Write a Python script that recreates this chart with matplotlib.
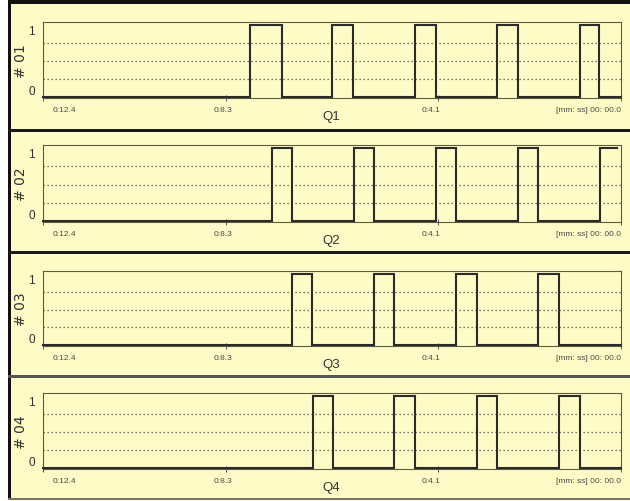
import matplotlib
matplotlib.use("Agg")
import matplotlib.pyplot as plt
from matplotlib.patches import Rectangle
from matplotlib.transforms import ScaledTranslation

plt.rcParams['font.family'] = ['Liberation Sans', 'DejaVu Sans']

# ---- data (time remaining in seconds, output state) ----
series_names = ["# 01", "# 02", "# 03", "# 04"]
panel_titles = ["Q1", "Q2", "Q3", "Q4"]

q1_t = [12.4, 7.96, 7.27, 6.19, 5.74, 4.41, 3.97, 2.65, 2.22, 0.89, 0.47, 0.0]
q1_v = [0, 1, 0, 1, 0, 1, 0, 1, 0, 1, 0, 0]
q2_t = [12.4, 7.49, 7.06, 5.73, 5.30, 3.97, 3.54, 2.22, 1.79, 0.45, 0.09]
q2_v = [0, 1, 0, 1, 0, 1, 0, 1, 0, 1, 1]
q3_t = [12.4, 7.06, 6.62, 5.30, 4.86, 3.54, 3.10, 1.78, 1.34, 0.0]
q3_v = [0, 1, 0, 1, 0, 1, 0, 1, 0, 0]
q4_t = [12.4, 6.61, 6.18, 4.86, 4.42, 3.10, 2.66, 1.34, 0.89, 0.0]
q4_v = [0, 1, 0, 1, 0, 1, 0, 1, 0, 0]
series_t = [q1_t, q2_t, q3_t, q4_t]
series_v = [q1_v, q2_v, q3_v, q4_v]

x_tick_pos = [12.4, 8.47, 3.93, 0.0]
x_tick_labels = ["0:12.4", "0:8.3", "0:4.1", "[mm: ss] 00: 00.0"]
y_tick_pos = [0, 1]
y_tick_labels = ["0", "1"]
grid_levels = [0.25, 0.5, 0.75]

W, H = 630, 502
BG = "#FEFBC6"
fig = plt.figure(figsize=(W / 100, H / 100), dpi=100, facecolor=BG)


def px_rect(x0, y0, x1, y1, color):
    fig.add_artist(Rectangle((x0 / W, 1 - y1 / H), (x1 - x0) / W, (y1 - y0) / H,
                             transform=fig.transFigure, facecolor=color,
                             edgecolor="none", zorder=5))


# frame decorations
px_rect(0, 0, 8, H, "white")
px_rect(8, 0, W, 5, "#111111")
px_rect(8, 0, 11, 501, "#111111")
px_rect(8, 129.5, W, 132.5, "#1a1a1a")
px_rect(8, 252, W, 255, "#1a1a1a")
px_rect(8, 376, W, 378.5, "#555555")
px_rect(8, 499, W, 501, "#777777")

axes_px = [(23, 99), (146, 223), (272, 347), (394, 470)]
left_px, right_px = 43, 621

for i, (top, bot) in enumerate(axes_px):
    ax = fig.add_axes([left_px / W, 1 - bot / H, (right_px - left_px) / W, (bot - top) / H])
    ax.set_facecolor(BG)
    ax.plot(series_t[i], series_v[i], drawstyle="steps-post", color="#2b2b2b",
            lw=1.5, clip_on=False, zorder=3, solid_joinstyle="miter")
    for g in grid_levels:
        ax.axhline(g, color="#4a4a4a", lw=0.9, linestyle=(0, (1, 2.2)), zorder=1)
    ax.set_xlim(12.4, 0)
    ax.set_ylim(-0.01, 1.04)
    for s in ax.spines.values():
        s.set_color("#5c5c40")
        s.set_linewidth(0.8)
    ax.set_xticks(x_tick_pos)
    ax.set_xticklabels(x_tick_labels, fontsize=6, color="#4a4a4a")
    ax.tick_params(axis="x", direction="inout", length=4, width=0.7, color="#555555", pad=4)
    labs = ax.get_xticklabels()
    labs[0].set_ha("left")
    labs[0].set_transform(labs[0].get_transform() + ScaledTranslation(10 / 100, 0, fig.dpi_scale_trans))
    labs[1].set_transform(labs[1].get_transform() + ScaledTranslation(-3 / 100, 0, fig.dpi_scale_trans))
    labs[2].set_transform(labs[2].get_transform() + ScaledTranslation(-7 / 100, 0, fig.dpi_scale_trans))
    labs[3].set_ha("right")
    ax.set_yticks(y_tick_pos)
    ax.set_yticklabels(y_tick_labels, fontsize=8.5, color="#333333")
    ax.tick_params(axis="y", length=0, pad=6)
    ylabs = ax.get_yticklabels()
    ylabs[0].set_va("bottom")
    ylabs[1].set_va("top")
    ax.set_ylabel(series_names[i], fontsize=10, color="#333333", family=["DejaVu Sans"])
    ax.yaxis.set_label_coords((21 - left_px) / (right_px - left_px), 0.5)
    ax.yaxis.label.set_va("center")
    fig.text(331 / W, 1 - (bot + 18) / H, panel_titles[i], fontsize=9.5,
             color="#333333", ha="center", va="center")

fig.savefig("out.png", dpi=100, facecolor=BG)
